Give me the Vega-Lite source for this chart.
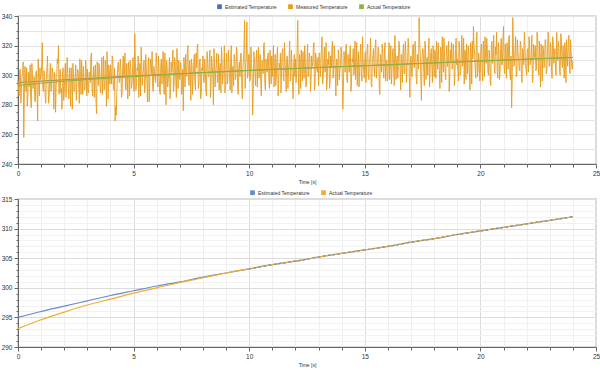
{
"$schema":"https://vega.github.io/schema/vega-lite/v6.json",
"padding":{"left":0,"top":3,"right":0,"bottom":0},
"background":"white",
"spacing":3,
"config":{
 "font":"Liberation Sans",
 "view":{"stroke":"#d0d0d0","strokeWidth":1.5},
 "axis":{"labelFontSize":6.5,"labelColor":"#333","domainColor":"#666","tickColor":"#666","labelFlush":false,"labelOverlap":false,"labelPadding":2,"titleFontSize":5,"titleFontWeight":"normal","titleColor":"#333","titlePadding":3},
 "axisX":{"labelOverlap":false},
 "axisY":{"labelOverlap":false},
 "legend":{"labelFontSize":5,"labelColor":"#333","symbolType":"square","symbolSize":5,"symbolStrokeWidth":2.5,"labelOffset":3,"columnPadding":7,"direction":"horizontal","orient":"none","title":null}
},
"resolve":{"scale":{"color":"independent"},"legend":{"color":"independent"}},
"datasets":{
"act":[
{"t":0,"v":293.1},{"t":1,"v":294.6},{"t":2,"v":295.9},{"t":3,"v":297.1},{"t":4,"v":298.1},{"t":5,"v":299.1},{"t":6,"v":300.0},{"t":7,"v":300.9},{"t":8,"v":301.7},{"t":9,"v":302.5},{"t":10,"v":303.2},{"t":11,"v":303.9},{"t":12,"v":304.5},{"t":13,"v":305.2},{"t":14,"v":305.8},{"t":15,"v":306.4},{"t":16,"v":307.0},{"t":17,"v":307.7},{"t":18,"v":308.3},{"t":19,"v":309.0},{"t":20,"v":309.6},{"t":21,"v":310.2},{"t":22,"v":310.8},{"t":23,"v":311.4},{"t":24,"v":312.0}
],
"est":[
{"t":0,"v":295.0},{"t":1,"v":296.0},{"t":2,"v":296.9},{"t":3,"v":297.8},{"t":4,"v":298.7},{"t":5,"v":299.5},{"t":6,"v":300.3},{"t":7,"v":301.0},{"t":8,"v":301.8},{"t":9,"v":302.5},{"t":10,"v":303.2},{"t":11,"v":303.9},{"t":12,"v":304.5},{"t":13,"v":305.2},{"t":14,"v":305.8},{"t":15,"v":306.4},{"t":16,"v":307.0},{"t":17,"v":307.7},{"t":18,"v":308.3},{"t":19,"v":309.0},{"t":20,"v":309.6},{"t":21,"v":310.2},{"t":22,"v":310.8},{"t":23,"v":311.4},{"t":24,"v":312.0}
],
"meas":[
{"t":0,"v":297},{"t":0.05,"v":286},{"t":0.1,"v":304},{"t":0.15,"v":292},{"t":0.2,"v":300},{"t":0.25,"v":258},{"t":0.3,"v":306},{"t":0.35,"v":289},{"t":0.4,"v":279},{"t":0.45,"v":302},{"t":0.5,"v":295},{"t":0.55,"v":284},{"t":0.6,"v":308},{"t":0.65,"v":291},{"t":0.7,"v":299},{"t":0.75,"v":282},{"t":0.8,"v":303},{"t":0.85,"v":269},{"t":0.9,"v":296},{"t":0.95,"v":305},
{"t":1,"v":300},{"t":1.05,"v":322},{"t":1.1,"v":289},{"t":1.15,"v":299},{"t":1.2,"v":281},{"t":1.25,"v":304},{"t":1.3,"v":295},{"t":1.35,"v":286},{"t":1.4,"v":308},{"t":1.45,"v":291},{"t":1.5,"v":302},{"t":1.55,"v":277},{"t":1.6,"v":300},{"t":1.65,"v":293},{"t":1.7,"v":311},{"t":1.75,"v":320},{"t":1.8,"v":298},{"t":1.85,"v":288},{"t":1.9,"v":277},{"t":1.95,"v":305},
{"t":2,"v":288},{"t":2.05,"v":308},{"t":2.1,"v":293},{"t":2.15,"v":302},{"t":2.2,"v":284},{"t":2.25,"v":298},{"t":2.3,"v":305},{"t":2.35,"v":277},{"t":2.4,"v":300},{"t":2.45,"v":290},{"t":2.5,"v":307},{"t":2.55,"v":295},{"t":2.6,"v":303},{"t":2.65,"v":281},{"t":2.7,"v":299},{"t":2.75,"v":310},{"t":2.8,"v":287},{"t":2.85,"v":297},{"t":2.9,"v":291},{"t":2.95,"v":304},
{"t":3,"v":304},{"t":3.05,"v":288},{"t":3.1,"v":301},{"t":3.15,"v":311},{"t":3.2,"v":291},{"t":3.25,"v":298},{"t":3.3,"v":285},{"t":3.35,"v":307},{"t":3.4,"v":274},{"t":3.45,"v":303},{"t":3.5,"v":308},{"t":3.55,"v":294},{"t":3.6,"v":300},{"t":3.65,"v":287},{"t":3.7,"v":313},{"t":3.75,"v":292},{"t":3.8,"v":305},{"t":3.85,"v":316},{"t":3.9,"v":284},{"t":3.95,"v":302},
{"t":4,"v":307},{"t":4.05,"v":294},{"t":4.1,"v":311},{"t":4.15,"v":290},{"t":4.2,"v":269},{"t":4.25,"v":273},{"t":4.3,"v":302},{"t":4.35,"v":309},{"t":4.4,"v":296},{"t":4.45,"v":305},{"t":4.5,"v":287},{"t":4.55,"v":313},{"t":4.6,"v":300},{"t":4.65,"v":292},{"t":4.7,"v":308},{"t":4.75,"v":284},{"t":4.8,"v":303},{"t":4.85,"v":310},{"t":4.9,"v":291},{"t":4.95,"v":301},
{"t":5,"v":294},{"t":5.05,"v":328},{"t":5.1,"v":290},{"t":5.15,"v":305},{"t":5.2,"v":313},{"t":5.25,"v":298},{"t":5.3,"v":286},{"t":5.35,"v":308},{"t":5.4,"v":300},{"t":5.45,"v":310},{"t":5.5,"v":293},{"t":5.55,"v":303},{"t":5.6,"v":282},{"t":5.65,"v":312},{"t":5.7,"v":296},{"t":5.75,"v":306},{"t":5.8,"v":316},{"t":5.85,"v":289},{"t":5.9,"v":302},{"t":5.95,"v":295},
{"t":6,"v":309},{"t":6.05,"v":292},{"t":6.1,"v":304},{"t":6.15,"v":287},{"t":6.2,"v":311},{"t":6.25,"v":301},{"t":6.3,"v":295},{"t":6.35,"v":315},{"t":6.4,"v":280},{"t":6.45,"v":306},{"t":6.5,"v":297},{"t":6.55,"v":312},{"t":6.6,"v":291},{"t":6.65,"v":302},{"t":6.7,"v":317},{"t":6.75,"v":294},{"t":6.8,"v":308},{"t":6.85,"v":285},{"t":6.9,"v":303},{"t":6.95,"v":310},
{"t":7,"v":297},{"t":7.05,"v":308},{"t":7.1,"v":290},{"t":7.15,"v":276},{"t":7.2,"v":306},{"t":7.25,"v":314},{"t":7.3,"v":299},{"t":7.35,"v":320},{"t":7.4,"v":293},{"t":7.45,"v":304},{"t":7.5,"v":311},{"t":7.55,"v":287},{"t":7.6,"v":307},{"t":7.65,"v":295},{"t":7.7,"v":315},{"t":7.75,"v":319},{"t":7.8,"v":291},{"t":7.85,"v":309},{"t":7.9,"v":284},{"t":7.95,"v":305},
{"t":8,"v":313},{"t":8.05,"v":295},{"t":8.1,"v":304},{"t":8.15,"v":286},{"t":8.2,"v":311},{"t":8.25,"v":299},{"t":8.3,"v":317},{"t":8.35,"v":292},{"t":8.4,"v":306},{"t":8.45,"v":280},{"t":8.5,"v":309},{"t":8.55,"v":302},{"t":8.6,"v":315},{"t":8.65,"v":297},{"t":8.7,"v":290},{"t":8.75,"v":308},{"t":8.8,"v":319},{"t":8.85,"v":294},{"t":8.9,"v":303},{"t":8.95,"v":288},
{"t":9,"v":308},{"t":9.05,"v":294},{"t":9.1,"v":317},{"t":9.15,"v":301},{"t":9.2,"v":311},{"t":9.25,"v":288},{"t":9.3,"v":306},{"t":9.35,"v":314},{"t":9.4,"v":297},{"t":9.45,"v":319},{"t":9.5,"v":292},{"t":9.55,"v":305},{"t":9.6,"v":299},{"t":9.65,"v":315},{"t":9.7,"v":284},{"t":9.75,"v":310},{"t":9.8,"v":337},{"t":9.85,"v":308},{"t":9.9,"v":336},{"t":9.95,"v":300},
{"t":10,"v":314},{"t":10.05,"v":298},{"t":10.1,"v":308},{"t":10.15,"v":273},{"t":10.2,"v":316},{"t":10.25,"v":302},{"t":10.3,"v":311},{"t":10.35,"v":292},{"t":10.4,"v":319},{"t":10.45,"v":305},{"t":10.5,"v":295},{"t":10.55,"v":310},{"t":10.6,"v":301},{"t":10.65,"v":322},{"t":10.7,"v":290},{"t":10.75,"v":307},{"t":10.8,"v":313},{"t":10.85,"v":297},{"t":10.9,"v":317},{"t":10.95,"v":294},
{"t":11,"v":299},{"t":11.05,"v":320},{"t":11.1,"v":306},{"t":11.15,"v":293},{"t":11.2,"v":312},{"t":11.25,"v":286},{"t":11.3,"v":308},{"t":11.35,"v":315},{"t":11.4,"v":303},{"t":11.45,"v":318},{"t":11.5,"v":296},{"t":11.55,"v":309},{"t":11.6,"v":289},{"t":11.65,"v":313},{"t":11.7,"v":304},{"t":11.75,"v":323},{"t":11.8,"v":298},{"t":11.85,"v":307},{"t":11.9,"v":284},{"t":11.95,"v":314},
{"t":12,"v":311},{"t":12.05,"v":301},{"t":12.1,"v":337},{"t":12.15,"v":287},{"t":12.2,"v":312},{"t":12.25,"v":317},{"t":12.3,"v":296},{"t":12.35,"v":307},{"t":12.4,"v":320},{"t":12.45,"v":292},{"t":12.5,"v":309},{"t":12.55,"v":299},{"t":12.6,"v":315},{"t":12.65,"v":289},{"t":12.7,"v":313},{"t":12.75,"v":306},{"t":12.8,"v":322},{"t":12.85,"v":295},{"t":12.9,"v":310},{"t":12.95,"v":302},
{"t":13,"v":293},{"t":13.05,"v":314},{"t":13.1,"v":308},{"t":13.15,"v":326},{"t":13.2,"v":298},{"t":13.25,"v":319},{"t":13.3,"v":303},{"t":13.35,"v":290},{"t":13.4,"v":311},{"t":13.45,"v":316},{"t":13.5,"v":296},{"t":13.55,"v":305},{"t":13.6,"v":323},{"t":13.65,"v":300},{"t":13.7,"v":313},{"t":13.75,"v":286},{"t":13.8,"v":309},{"t":13.85,"v":317},{"t":13.9,"v":297},{"t":13.95,"v":307},
{"t":14,"v":313},{"t":14.05,"v":277},{"t":14.1,"v":316},{"t":14.15,"v":302},{"t":14.2,"v":321},{"t":14.25,"v":295},{"t":14.3,"v":309},{"t":14.35,"v":315},{"t":14.4,"v":289},{"t":14.45,"v":311},{"t":14.5,"v":318},{"t":14.55,"v":304},{"t":14.6,"v":297},{"t":14.65,"v":322},{"t":14.7,"v":307},{"t":14.75,"v":292},{"t":14.8,"v":314},{"t":14.85,"v":300},{"t":14.9,"v":326},{"t":14.95,"v":303},
{"t":15,"v":311},{"t":15.05,"v":295},{"t":15.1,"v":318},{"t":15.15,"v":300},{"t":15.2,"v":309},{"t":15.25,"v":325},{"t":15.3,"v":292},{"t":15.35,"v":313},{"t":15.4,"v":304},{"t":15.45,"v":320},{"t":15.5,"v":298},{"t":15.55,"v":308},{"t":15.6,"v":316},{"t":15.65,"v":287},{"t":15.7,"v":312},{"t":15.75,"v":321},{"t":15.8,"v":302},{"t":15.85,"v":317},{"t":15.9,"v":296},{"t":15.95,"v":310},
{"t":16,"v":299},{"t":16.05,"v":322},{"t":16.1,"v":309},{"t":16.15,"v":294},{"t":16.2,"v":316},{"t":16.25,"v":303},{"t":16.3,"v":327},{"t":16.35,"v":297},{"t":16.4,"v":313},{"t":16.45,"v":306},{"t":16.5,"v":319},{"t":16.55,"v":290},{"t":16.6,"v":310},{"t":16.65,"v":315},{"t":16.7,"v":301},{"t":16.75,"v":323},{"t":16.8,"v":295},{"t":16.85,"v":308},{"t":16.9,"v":318},{"t":16.95,"v":285},
{"t":17,"v":313},{"t":17.05,"v":299},{"t":17.1,"v":321},{"t":17.15,"v":305},{"t":17.2,"v":316},{"t":17.25,"v":294},{"t":17.3,"v":310},{"t":17.35,"v":339},{"t":17.4,"v":314},{"t":17.45,"v":283},{"t":17.5,"v":318},{"t":17.55,"v":302},{"t":17.6,"v":323},{"t":17.65,"v":297},{"t":17.7,"v":312},{"t":17.75,"v":317},{"t":17.8,"v":292},{"t":17.85,"v":315},{"t":17.9,"v":306},{"t":17.95,"v":320},
{"t":18,"v":299},{"t":18.05,"v":315},{"t":18.1,"v":323},{"t":18.15,"v":304},{"t":18.2,"v":310},{"t":18.25,"v":291},{"t":18.3,"v":318},{"t":18.35,"v":326},{"t":18.4,"v":302},{"t":18.45,"v":312},{"t":18.5,"v":297},{"t":18.55,"v":320},{"t":18.6,"v":309},{"t":18.65,"v":289},{"t":18.7,"v":317},{"t":18.75,"v":322},{"t":18.8,"v":305},{"t":18.85,"v":314},{"t":18.9,"v":300},{"t":18.95,"v":325},
{"t":19,"v":311},{"t":19.05,"v":296},{"t":19.1,"v":319},{"t":19.15,"v":303},{"t":19.2,"v":327},{"t":19.25,"v":308},{"t":19.3,"v":294},{"t":19.35,"v":316},{"t":19.4,"v":321},{"t":19.45,"v":301},{"t":19.5,"v":313},{"t":19.55,"v":290},{"t":19.6,"v":318},{"t":19.65,"v":323},{"t":19.7,"v":333},{"t":19.75,"v":315},{"t":19.8,"v":298},{"t":19.85,"v":329},{"t":19.9,"v":304},{"t":19.95,"v":310},
{"t":20,"v":303},{"t":20.05,"v":321},{"t":20.1,"v":296},{"t":20.15,"v":315},{"t":20.2,"v":326},{"t":20.25,"v":308},{"t":20.3,"v":318},{"t":20.35,"v":300},{"t":20.4,"v":313},{"t":20.45,"v":293},{"t":20.5,"v":323},{"t":20.55,"v":310},{"t":20.6,"v":305},{"t":20.65,"v":319},{"t":20.7,"v":329},{"t":20.75,"v":298},{"t":20.8,"v":316},{"t":20.85,"v":302},{"t":20.9,"v":325},{"t":20.95,"v":307},
{"t":21,"v":333},{"t":21.05,"v":301},{"t":21.1,"v":314},{"t":21.15,"v":322},{"t":21.2,"v":304},{"t":21.25,"v":327},{"t":21.3,"v":297},{"t":21.35,"v":278},{"t":21.4,"v":339},{"t":21.45,"v":306},{"t":21.5,"v":318},{"t":21.55,"v":299},{"t":21.6,"v":324},{"t":21.65,"v":312},{"t":21.7,"v":303},{"t":21.75,"v":320},{"t":21.8,"v":295},{"t":21.85,"v":316},{"t":21.9,"v":329},{"t":21.95,"v":308},
{"t":22,"v":300},{"t":22.05,"v":318},{"t":22.1,"v":326},{"t":22.15,"v":307},{"t":22.2,"v":314},{"t":22.25,"v":295},{"t":22.3,"v":321},{"t":22.35,"v":312},{"t":22.4,"v":303},{"t":22.45,"v":329},{"t":22.5,"v":308},{"t":22.55,"v":323},{"t":22.6,"v":292},{"t":22.65,"v":316},{"t":22.7,"v":320},{"t":22.75,"v":305},{"t":22.8,"v":324},{"t":22.85,"v":301},{"t":22.9,"v":313},{"t":22.95,"v":327},
{"t":23,"v":307},{"t":23.05,"v":320},{"t":23.1,"v":298},{"t":23.15,"v":323},{"t":23.2,"v":315},{"t":23.25,"v":303},{"t":23.3,"v":329},{"t":23.35,"v":310},{"t":23.4,"v":318},{"t":23.45,"v":300},{"t":23.5,"v":326},{"t":23.55,"v":305},{"t":23.6,"v":313},{"t":23.65,"v":322},{"t":23.7,"v":295},{"t":23.75,"v":316},{"t":23.8,"v":321},{"t":23.85,"v":309},{"t":23.9,"v":324},{"t":23.95,"v":306},
{"t":24,"v":310},
{"t":0.025,"v":290},{"t":0.075,"v":303},{"t":0.125,"v":281},{"t":0.175,"v":299},{"t":0.225,"v":309},{"t":0.275,"v":287},{"t":0.325,"v":295},{"t":0.375,"v":305},{"t":0.425,"v":285},{"t":0.475,"v":292},{"t":0.525,"v":307},{"t":0.575,"v":278},{"t":0.625,"v":300},{"t":0.675,"v":294},{"t":0.725,"v":283},{"t":0.775,"v":302},{"t":0.825,"v":289},{"t":0.875,"v":311},{"t":0.925,"v":286},{"t":0.975,"v":297},
{"t":1.025,"v":307},{"t":1.075,"v":292},{"t":1.125,"v":303},{"t":1.175,"v":285},{"t":1.225,"v":297},{"t":1.275,"v":313},{"t":1.325,"v":281},{"t":1.375,"v":300},{"t":1.425,"v":289},{"t":1.475,"v":305},{"t":1.525,"v":294},{"t":1.575,"v":302},{"t":1.625,"v":275},{"t":1.675,"v":298},{"t":1.725,"v":308},{"t":1.775,"v":287},{"t":1.825,"v":304},{"t":1.875,"v":291},{"t":1.925,"v":301},{"t":1.975,"v":283},
{"t":2.025,"v":301},{"t":2.075,"v":285},{"t":2.125,"v":312},{"t":2.175,"v":292},{"t":2.225,"v":305},{"t":2.275,"v":279},{"t":2.325,"v":297},{"t":2.375,"v":308},{"t":2.425,"v":289},{"t":2.475,"v":300},{"t":2.525,"v":283},{"t":2.575,"v":304},{"t":2.625,"v":294},{"t":2.675,"v":311},{"t":2.725,"v":287},{"t":2.775,"v":299},{"t":2.825,"v":306},{"t":2.875,"v":290},{"t":2.925,"v":310},{"t":2.975,"v":286},
{"t":3.025,"v":289},{"t":3.075,"v":302},{"t":3.125,"v":295},{"t":3.175,"v":315},{"t":3.225,"v":286},{"t":3.275,"v":306},{"t":3.325,"v":300},{"t":3.375,"v":282},{"t":3.425,"v":309},{"t":3.475,"v":293},{"t":3.525,"v":305},{"t":3.575,"v":288},{"t":3.625,"v":312},{"t":3.675,"v":299},{"t":3.725,"v":290},{"t":3.775,"v":310},{"t":3.825,"v":279},{"t":3.875,"v":304},{"t":3.925,"v":307},{"t":3.975,"v":294},
{"t":4.025,"v":302},{"t":4.075,"v":313},{"t":4.125,"v":291},{"t":4.175,"v":305},{"t":4.225,"v":279},{"t":4.275,"v":288},{"t":4.325,"v":308},{"t":4.375,"v":295},{"t":4.425,"v":311},{"t":4.475,"v":285},{"t":4.525,"v":304},{"t":4.575,"v":298},{"t":4.625,"v":315},{"t":4.675,"v":290},{"t":4.725,"v":301},{"t":4.775,"v":309},{"t":4.825,"v":286},{"t":4.875,"v":306},{"t":4.925,"v":293},{"t":4.975,"v":312},
{"t":5.025,"v":289},{"t":5.075,"v":310},{"t":5.125,"v":295},{"t":5.175,"v":303},{"t":5.225,"v":285},{"t":5.275,"v":308},{"t":5.325,"v":319},{"t":5.375,"v":293},{"t":5.425,"v":304},{"t":5.475,"v":288},{"t":5.525,"v":314},{"t":5.575,"v":297},{"t":5.625,"v":307},{"t":5.675,"v":282},{"t":5.725,"v":311},{"t":5.775,"v":301},{"t":5.825,"v":291},{"t":5.875,"v":306},{"t":5.925,"v":298},{"t":5.975,"v":315},
{"t":6.025,"v":297},{"t":6.075,"v":313},{"t":6.125,"v":290},{"t":6.175,"v":307},{"t":6.225,"v":294},{"t":6.275,"v":316},{"t":6.325,"v":287},{"t":6.375,"v":304},{"t":6.425,"v":310},{"t":6.475,"v":292},{"t":6.525,"v":302},{"t":6.575,"v":284},{"t":6.625,"v":309},{"t":6.675,"v":305},{"t":6.725,"v":289},{"t":6.775,"v":312},{"t":6.825,"v":296},{"t":6.875,"v":318},{"t":6.925,"v":291},{"t":6.975,"v":301},
{"t":7.025,"v":309},{"t":7.075,"v":287},{"t":7.125,"v":304},{"t":7.175,"v":312},{"t":7.225,"v":292},{"t":7.275,"v":302},{"t":7.325,"v":316},{"t":7.375,"v":296},{"t":7.425,"v":310},{"t":7.475,"v":283},{"t":7.525,"v":307},{"t":7.575,"v":299},{"t":7.625,"v":314},{"t":7.675,"v":290},{"t":7.725,"v":305},{"t":7.775,"v":321},{"t":7.825,"v":294},{"t":7.875,"v":311},{"t":7.925,"v":288},{"t":7.975,"v":303},
{"t":8.025,"v":296},{"t":8.075,"v":311},{"t":8.125,"v":290},{"t":8.175,"v":316},{"t":8.225,"v":299},{"t":8.275,"v":309},{"t":8.325,"v":285},{"t":8.375,"v":313},{"t":8.425,"v":302},{"t":8.475,"v":318},{"t":8.525,"v":292},{"t":8.575,"v":307},{"t":8.625,"v":295},{"t":8.675,"v":314},{"t":8.725,"v":305},{"t":8.775,"v":288},{"t":8.825,"v":310},{"t":8.875,"v":301},{"t":8.925,"v":320},{"t":8.975,"v":293},
{"t":9.025,"v":315},{"t":9.075,"v":296},{"t":9.125,"v":307},{"t":9.175,"v":290},{"t":9.225,"v":320},{"t":9.275,"v":305},{"t":9.325,"v":293},{"t":9.375,"v":311},{"t":9.425,"v":299},{"t":9.475,"v":316},{"t":9.525,"v":287},{"t":9.575,"v":309},{"t":9.625,"v":313},{"t":9.675,"v":295},{"t":9.725,"v":304},{"t":9.775,"v":318},{"t":9.825,"v":291},{"t":9.875,"v":312},{"t":9.925,"v":298},{"t":9.975,"v":314},
{"t":10.025,"v":296},{"t":10.075,"v":319},{"t":10.125,"v":301},{"t":10.175,"v":289},{"t":10.225,"v":310},{"t":10.275,"v":293},{"t":10.325,"v":317},{"t":10.375,"v":306},{"t":10.425,"v":298},{"t":10.475,"v":314},{"t":10.525,"v":286},{"t":10.575,"v":308},{"t":10.625,"v":320},{"t":10.675,"v":295},{"t":10.725,"v":311},{"t":10.775,"v":302},{"t":10.825,"v":315},{"t":10.875,"v":291},{"t":10.925,"v":309},{"t":10.975,"v":313},
{"t":11.025,"v":311},{"t":11.075,"v":292},{"t":11.125,"v":314},{"t":11.175,"v":300},{"t":11.225,"v":319},{"t":11.275,"v":295},{"t":11.325,"v":305},{"t":11.375,"v":288},{"t":11.425,"v":316},{"t":11.475,"v":298},{"t":11.525,"v":322},{"t":11.575,"v":302},{"t":11.625,"v":312},{"t":11.675,"v":291},{"t":11.725,"v":309},{"t":11.775,"v":296},{"t":11.825,"v":317},{"t":11.875,"v":293},{"t":11.925,"v":307},{"t":11.975,"v":299},
{"t":12.025,"v":295},{"t":12.075,"v":319},{"t":12.125,"v":300},{"t":12.175,"v":314},{"t":12.225,"v":291},{"t":12.275,"v":308},{"t":12.325,"v":316},{"t":12.375,"v":298},{"t":12.425,"v":311},{"t":12.475,"v":293},{"t":12.525,"v":321},{"t":12.575,"v":302},{"t":12.625,"v":313},{"t":12.675,"v":296},{"t":12.725,"v":307},{"t":12.775,"v":318},{"t":12.825,"v":290},{"t":12.875,"v":315},{"t":12.925,"v":304},{"t":12.975,"v":312},
{"t":13.025,"v":315},{"t":13.075,"v":299},{"t":13.125,"v":318},{"t":13.175,"v":294},{"t":13.225,"v":309},{"t":13.275,"v":302},{"t":13.325,"v":322},{"t":13.375,"v":296},{"t":13.425,"v":307},{"t":13.475,"v":291},{"t":13.525,"v":313},{"t":13.575,"v":317},{"t":13.625,"v":298},{"t":13.675,"v":320},{"t":13.725,"v":301},{"t":13.775,"v":311},{"t":13.825,"v":293},{"t":13.875,"v":314},{"t":13.925,"v":304},{"t":13.975,"v":319},
{"t":14.025,"v":299},{"t":14.075,"v":292},{"t":14.125,"v":311},{"t":14.175,"v":318},{"t":14.225,"v":297},{"t":14.275,"v":314},{"t":14.325,"v":302},{"t":14.375,"v":320},{"t":14.425,"v":295},{"t":14.475,"v":309},{"t":14.525,"v":300},{"t":14.575,"v":323},{"t":14.625,"v":307},{"t":14.675,"v":293},{"t":14.725,"v":316},{"t":14.775,"v":303},{"t":14.825,"v":321},{"t":14.875,"v":296},{"t":14.925,"v":312},{"t":14.975,"v":298},
{"t":15.025,"v":316},{"t":15.075,"v":303},{"t":15.125,"v":321},{"t":15.175,"v":297},{"t":15.225,"v":313},{"t":15.275,"v":294},{"t":15.325,"v":310},{"t":15.375,"v":318},{"t":15.425,"v":299},{"t":15.475,"v":324},{"t":15.525,"v":305},{"t":15.575,"v":319},{"t":15.625,"v":292},{"t":15.675,"v":314},{"t":15.725,"v":302},{"t":15.775,"v":317},{"t":15.825,"v":298},{"t":15.875,"v":322},{"t":15.925,"v":307},{"t":15.975,"v":296},
{"t":16.025,"v":313},{"t":16.075,"v":297},{"t":16.125,"v":320},{"t":16.175,"v":302},{"t":16.225,"v":318},{"t":16.275,"v":293},{"t":16.325,"v":315},{"t":16.375,"v":309},{"t":16.425,"v":298},{"t":16.475,"v":323},{"t":16.525,"v":304},{"t":16.575,"v":314},{"t":16.625,"v":295},{"t":16.675,"v":321},{"t":16.725,"v":301},{"t":16.775,"v":316},{"t":16.825,"v":306},{"t":16.875,"v":325},{"t":16.925,"v":299},{"t":16.975,"v":311},
{"t":17.025,"v":301},{"t":17.075,"v":320},{"t":17.125,"v":306},{"t":17.175,"v":323},{"t":17.225,"v":298},{"t":17.275,"v":314},{"t":17.325,"v":304},{"t":17.375,"v":322},{"t":17.425,"v":296},{"t":17.475,"v":311},{"t":17.525,"v":317},{"t":17.575,"v":293},{"t":17.625,"v":319},{"t":17.675,"v":309},{"t":17.725,"v":300},{"t":17.775,"v":325},{"t":17.825,"v":303},{"t":17.875,"v":318},{"t":17.925,"v":295},{"t":17.975,"v":315},
{"t":18.025,"v":317},{"t":18.075,"v":298},{"t":18.125,"v":313},{"t":18.175,"v":322},{"t":18.225,"v":303},{"t":18.275,"v":319},{"t":18.325,"v":295},{"t":18.375,"v":311},{"t":18.425,"v":325},{"t":18.475,"v":301},{"t":18.525,"v":315},{"t":18.575,"v":306},{"t":18.625,"v":323},{"t":18.675,"v":299},{"t":18.725,"v":310},{"t":18.775,"v":304},{"t":18.825,"v":321},{"t":18.875,"v":293},{"t":18.925,"v":318},{"t":18.975,"v":307},
{"t":19.025,"v":303},{"t":19.075,"v":323},{"t":19.125,"v":300},{"t":19.175,"v":314},{"t":19.225,"v":306},{"t":19.275,"v":325},{"t":19.325,"v":317},{"t":19.375,"v":297},{"t":19.425,"v":312},{"t":19.475,"v":320},{"t":19.525,"v":302},{"t":19.575,"v":322},{"t":19.625,"v":294},{"t":19.675,"v":311},{"t":19.725,"v":319},{"t":19.775,"v":305},{"t":19.825,"v":326},{"t":19.875,"v":299},{"t":19.925,"v":315},{"t":19.975,"v":296},
{"t":20.025,"v":319},{"t":20.075,"v":305},{"t":20.125,"v":323},{"t":20.175,"v":299},{"t":20.225,"v":312},{"t":20.275,"v":325},{"t":20.325,"v":302},{"t":20.375,"v":317},{"t":20.425,"v":296},{"t":20.475,"v":321},{"t":20.525,"v":308},{"t":20.575,"v":327},{"t":20.625,"v":301},{"t":20.675,"v":314},{"t":20.725,"v":304},{"t":20.775,"v":322},{"t":20.825,"v":297},{"t":20.875,"v":318},{"t":20.925,"v":307},{"t":20.975,"v":324},
{"t":21.025,"v":305},{"t":21.075,"v":321},{"t":21.125,"v":298},{"t":21.175,"v":317},{"t":21.225,"v":325},{"t":21.275,"v":302},{"t":21.325,"v":313},{"t":21.375,"v":296},{"t":21.425,"v":320},{"t":21.475,"v":308},{"t":21.525,"v":326},{"t":21.575,"v":301},{"t":21.625,"v":315},{"t":21.675,"v":304},{"t":21.725,"v":323},{"t":21.775,"v":299},{"t":21.825,"v":318},{"t":21.875,"v":307},{"t":21.925,"v":322},{"t":21.975,"v":303},
{"t":22.025,"v":317},{"t":22.075,"v":302},{"t":22.125,"v":323},{"t":22.175,"v":308},{"t":22.225,"v":327},{"t":22.275,"v":298},{"t":22.325,"v":315},{"t":22.375,"v":320},{"t":22.425,"v":304},{"t":22.475,"v":325},{"t":22.525,"v":300},{"t":22.575,"v":313},{"t":22.625,"v":321},{"t":22.675,"v":296},{"t":22.725,"v":318},{"t":22.775,"v":307},{"t":22.825,"v":324},{"t":22.875,"v":303},{"t":22.925,"v":329},{"t":22.975,"v":306},
{"t":23.025,"v":322},{"t":23.075,"v":305},{"t":23.125,"v":326},{"t":23.175,"v":308},{"t":23.225,"v":318},{"t":23.275,"v":300},{"t":23.325,"v":314},{"t":23.375,"v":323},{"t":23.425,"v":303},{"t":23.475,"v":328},{"t":23.525,"v":309},{"t":23.575,"v":320},{"t":23.625,"v":298},{"t":23.675,"v":317},{"t":23.725,"v":324},{"t":23.775,"v":306},{"t":23.825,"v":327},{"t":23.875,"v":301},{"t":23.925,"v":315},{"t":23.975,"v":304}
]
},
"vconcat":[
{
 "width":578,"height":148,
 "encoding":{
  "x":{"field":"t","type":"quantitative","scale":{"domain":[0,25],"nice":false},
   "axis":{"title":"Time [s]","labelOverlap":false,"values":[0,1,2,3,4,5,6,7,8,9,10,11,12,13,14,15,16,17,18,19,20,21,22,23,24,25],
    "labelExpr":"datum.value % 5 === 0 ? datum.label : ''",
    "tickSize":{"condition":{"test":"datum.value % 5 === 0","value":4},"value":3},
    "gridColor":{"condition":{"test":"datum.value % 5 === 0","value":"#dcdcdc"},"value":"#efefef"}}},
  "y":{"field":"v","type":"quantitative","scale":{"domain":[240,340],"nice":false,"zero":false},
   "axis":{"title":null,"labelOverlap":false,"values":[240,245,250,255,260,265,270,275,280,285,290,295,300,305,310,315,320,325,330,335,340],
    "labelExpr":"datum.value % 20 === 0 ? datum.label : ''",
    "tickSize":{"condition":{"test":"datum.value % 20 === 0","value":4},"value":2},
    "gridColor":{"condition":{"test":"datum.value % 10 === 0","value":"#e4e4e4"},"value":"rgba(0,0,0,0)"}}}
 },
 "layer":[
  {"data":{"name":"est"},"mark":{"type":"line","strokeWidth":1,"interpolate":"monotone"},
   "encoding":{
    "color":{"datum":"Estimated Temperature","scale":{"domain":["Estimated Temperature","Measured Temperature","Actual Temperature"],"range":["#4a6fb5","#e89c1c","#8cb43c"]},
     "legend":{"legendX":199,"legendY":-12}}
   }},
  {"data":{"name":"meas"},"mark":{"type":"line","strokeWidth":0.9},
   "encoding":{"color":{"datum":"Measured Temperature"}}},
  {"data":{"name":"act"},"mark":{"type":"line","strokeWidth":1,"interpolate":"monotone"},
   "encoding":{"color":{"datum":"Actual Temperature"}}}
 ]
},
{
 "width":578,"height":148,
 "encoding":{
  "x":{"field":"t","type":"quantitative","scale":{"domain":[0,25],"nice":false},
   "axis":{"title":"Time [s]","labelOverlap":false,"values":[0,1,2,3,4,5,6,7,8,9,10,11,12,13,14,15,16,17,18,19,20,21,22,23,24,25],
    "labelExpr":"datum.value % 5 === 0 ? datum.label : ''",
    "tickSize":{"condition":{"test":"datum.value % 5 === 0","value":4},"value":3},
    "gridColor":{"condition":{"test":"datum.value % 5 === 0","value":"#dcdcdc"},"value":"#efefef"}}},
  "y":{"field":"v","type":"quantitative","scale":{"domain":[290,315],"nice":false,"zero":false},
   "axis":{"title":null,"labelOverlap":false,"values":[290,291,292,293,294,295,296,297,298,299,300,301,302,303,304,305,306,307,308,309,310,311,312,313,314,315],
    "labelExpr":"datum.value % 5 === 0 ? datum.label : ''",
    "tickSize":{"condition":{"test":"datum.value % 5 === 0","value":4},"value":2},
    "gridColor":{"condition":{"test":"datum.value % 5 === 0","value":"#dcdcdc"},"value":"#f1f1f1"}}}
 },
 "layer":[
  {"data":{"name":"est"},"mark":{"type":"line","strokeWidth":1.2,"interpolate":"monotone"},
   "encoding":{
    "color":{"datum":"Estimated Temperature","scale":{"domain":["Estimated Temperature","Actual Temperature"],"range":["#6a8cc8","#f2ad2e"]},
     "legend":{"legendX":232,"legendY":-9}}
   }},
  {"data":{"name":"act"},"mark":{"type":"line","strokeWidth":1.2,"interpolate":"monotone"},
   "encoding":{"color":{"datum":"Actual Temperature"}}},
  {"data":{"name":"est"},"transform":[{"filter":"datum.t >= 10"}],"mark":{"type":"line","strokeWidth":1.2,"interpolate":"monotone","strokeDash":[2,3]},
   "encoding":{"color":{"datum":"Estimated Temperature"}}}
 ]
}
]
}
